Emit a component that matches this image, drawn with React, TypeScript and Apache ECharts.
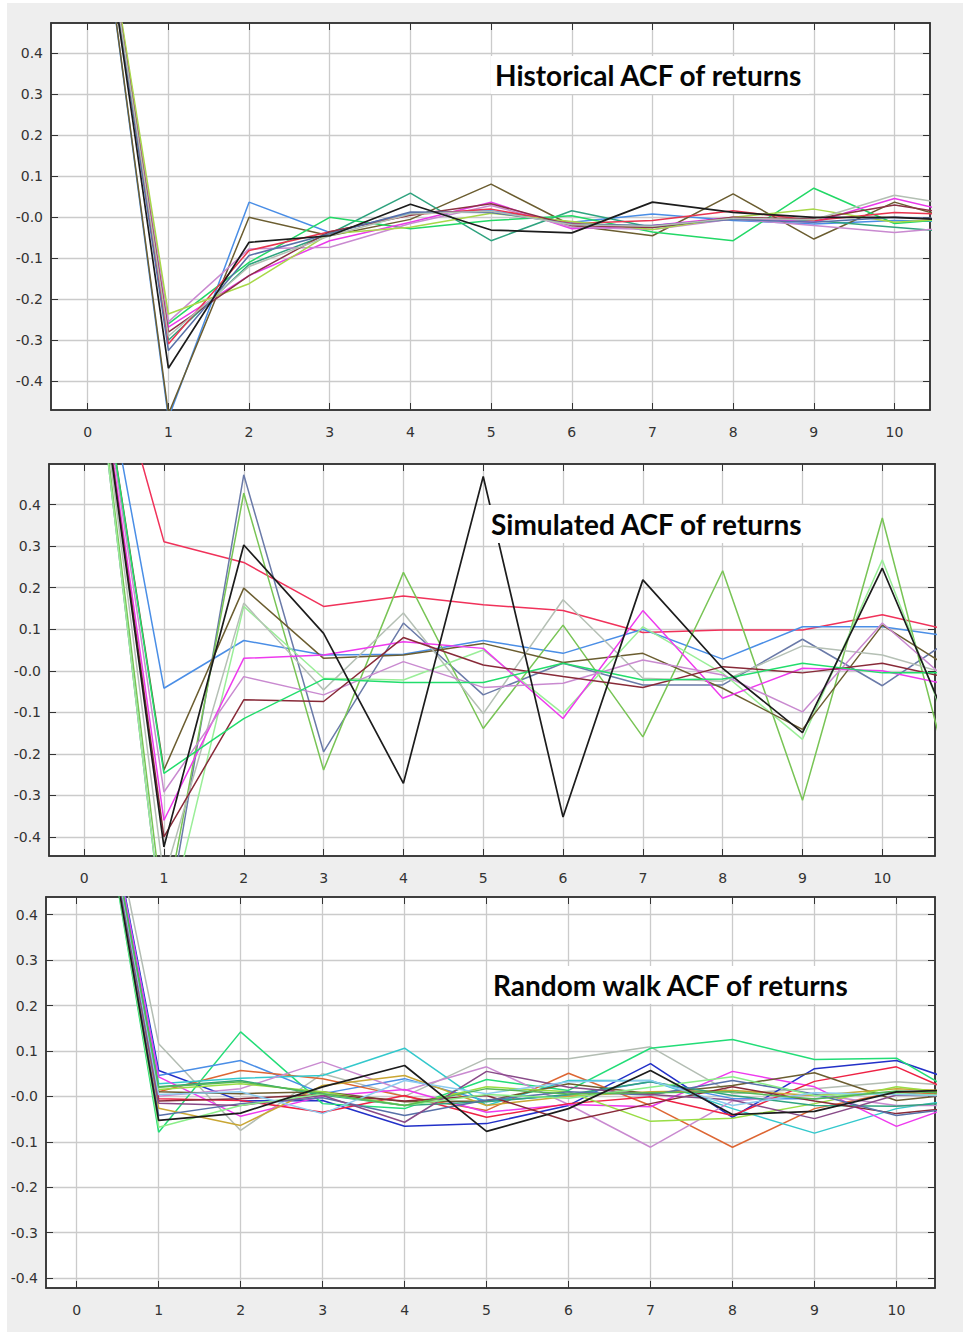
import React, { useEffect, useRef } from 'react';
import * as echarts from 'echarts';

// ---------- shared axis values ----------
const lags = [0, 1, 2, 3, 4, 5, 6, 7, 8, 9, 10, 11];
const xTicks = [0, 1, 2, 3, 4, 5, 6, 7, 8, 9, 10];
const yTicks = [-0.4, -0.3, -0.2, -0.1, 0, 0.1, 0.2, 0.3, 0.4];
const yTickLabels = ['-0.4', '-0.3', '-0.2', '-0.1', '-0.0', '0.1', '0.2', '0.3', '0.4'];
const titles = ['Historical ACF of returns', 'Simulated ACF of returns', 'Random walk ACF of returns'];

// ---------- panel 1: historical ----------
const histBlue = [1, -0.49, 0.037, -0.037, 0.01, 0.016, -0.012, 0.008, -0.008, -0.016, -0.008, -0.012];
const histOlive = [1, -0.48, 0.0, -0.045, -0.005, 0.081, -0.02, -0.045, 0.057, -0.053, 0.037, -0.02];
const histBlack = [1, -0.368, -0.061, -0.045, 0.032, -0.031, -0.038, 0.037, 0.012, 0.0, 0.0, -0.01];
const histTeal = [1, -0.3, -0.115, -0.04, 0.059, -0.057, 0.016, -0.025, -0.004, -0.008, -0.024, -0.04];
const histGreen = [1, -0.26, -0.11, 0.0, -0.028, -0.008, 0.004, -0.036, -0.057, 0.071, -0.015, 0.0];
const histMagenta = [1, -0.268, -0.142, -0.057, -0.012, 0.037, -0.028, -0.02, 0.0, -0.012, 0.046, 0.0];
const histPink = [1, -0.255, -0.077, -0.073, -0.015, 0.029, -0.024, -0.03, -0.004, -0.02, -0.037, -0.02];
const histRed = [1, -0.309, -0.081, -0.035, 0.006, 0.02, -0.015, -0.008, 0.016, -0.008, 0.012, 0.005];
const histLime = [1, -0.236, -0.162, -0.04, -0.024, 0.01, -0.01, -0.03, 0.0, 0.02, -0.012, 0.0];
const histMaroon = [1, -0.28, -0.142, -0.035, 0.005, 0.033, -0.02, -0.025, 0.0, -0.004, 0.03, 0.0];
const histSlate = [1, -0.325, -0.093, -0.04, 0.013, 0.012, -0.016, -0.02, -0.005, -0.012, 0.0, -0.005];
const histGray = [1, -0.29, -0.12, -0.045, 0.008, 0.015, -0.018, -0.022, -0.002, -0.006, 0.054, 0.022];

// ---------- panel 2: simulated ----------
const simRed = [1, 0.311, 0.261, 0.155, 0.18, 0.159, 0.145, 0.092, 0.098, 0.098, 0.135, 0.091];
const simBlue = [1, -0.042, 0.073, 0.038, 0.04, 0.073, 0.042, 0.1, 0.028, 0.106, 0.106, 0.079];
const simBlack = [1, -0.424, 0.303, 0.09, -0.271, 0.468, -0.352, 0.219, 0.006, -0.149, 0.247, -0.208];
const simSlate = [1, -0.65, 0.472, -0.195, 0.115, -0.058, 0.018, -0.034, -0.034, 0.076, -0.036, 0.094];
const simGreen = [1, -0.6, 0.428, -0.239, 0.237, -0.139, 0.11, -0.159, 0.241, -0.312, 0.368, -0.37];
const simLightGreen = [1, -0.65, 0.155, -0.018, -0.022, 0.05, -0.103, 0.106, -0.006, -0.165, 0.267, -0.225];
const simOlive = [1, -0.239, 0.199, 0.03, 0.038, 0.066, 0.02, 0.042, -0.042, -0.141, 0.11, -0.011];
const simGray = [1, -0.5, 0.163, -0.046, 0.139, -0.103, 0.171, -0.018, -0.025, 0.06, 0.038, -0.017];
const simMagenta = [1, -0.36, 0.03, 0.038, 0.07, 0.054, -0.115, 0.145, -0.066, 0.006, 0.0, -0.04];
const simPink = [1, -0.292, -0.014, -0.058, 0.022, -0.04, -0.03, 0.026, -0.01, -0.099, 0.115, -0.053];
const simMaroon = [1, -0.4, -0.07, -0.074, 0.08, 0.014, -0.014, -0.04, 0.01, -0.005, 0.018, -0.024];
const simBrightGreen = [1, -0.247, -0.115, -0.02, -0.028, -0.028, 0.018, -0.022, -0.02, 0.018, -0.005, -0.005];

// ---------- panel 3: random walk ----------
const rwGray = [1, 0.116, -0.075, 0.05, 0.0, 0.083, 0.083, 0.109, 0.006, 0.017, 0.032, 0.02];
const rwNavy = [1, 0.057, -0.01, -0.009, -0.066, -0.06, -0.02, 0.072, -0.046, 0.061, 0.079, 0.017];
const rwGreen = [1, -0.079, 0.142, -0.016, -0.027, 0.037, 0.013, 0.106, 0.125, 0.081, 0.084, -0.02];
const rwBlue = [1, 0.046, 0.079, 0.006, 0.039, -0.01, 0.002, 0.032, -0.005, -0.005, 0.01, -0.01];
const rwOrange = [1, 0.01, 0.057, 0.039, 0.0, -0.031, 0.051, -0.02, -0.112, -0.027, 0.01, 0.0];
const rwCyan = [1, 0.028, 0.04, 0.046, 0.106, -0.02, 0.035, 0.035, -0.027, -0.081, -0.027, 0.0];
const rwBlack = [1, -0.053, -0.037, 0.021, 0.068, -0.077, -0.027, 0.057, -0.04, -0.033, 0.01, 0.015];
const rwViolet = [1, 0.0, 0.017, 0.076, 0.013, 0.065, -0.018, -0.112, -0.01, 0.004, -0.02, -0.02];
const rwMagenta = [1, 0.043, -0.044, 0.0, 0.015, -0.035, -0.018, -0.023, 0.055, 0.021, -0.066, -0.002];
const rwRed = [1, -0.005, -0.009, -0.035, 0.002, -0.046, -0.016, -0.001, -0.042, 0.033, 0.065, -0.014];
const rwOlive = [1, 0.01, 0.006, 0.01, -0.012, -0.01, 0.028, 0.006, 0.024, 0.052, -0.009, 0.01];
const rwMustard = [1, -0.026, -0.064, 0.024, 0.046, -0.02, 0.0, 0.01, 0.013, 0.002, 0.017, 0.01];
const rwLime = [1, 0.015, 0.028, 0.01, -0.02, 0.021, 0.01, -0.055, -0.048, -0.016, 0.021, 0.0];
const rwTeal = [1, 0.021, 0.035, 0.003, -0.02, -0.012, 0.004, 0.032, 0.002, -0.02, -0.022, -0.01];
const rwMaroon = [1, -0.01, -0.005, 0.004, -0.01, 0.002, -0.055, -0.016, 0.021, -0.01, -0.038, -0.02];
const rwSlate = [1, -0.042, -0.016, -0.003, -0.042, -0.008, 0.01, 0.003, 0.035, 0.005, -0.042, -0.02];
const rwPurple = [1, -0.015, -0.02, 0.002, -0.057, 0.055, 0.02, 0.004, -0.008, -0.049, 0.003, 0.0];
const rwLightGreen = [1, -0.068, -0.02, 0.005, -0.02, 0.004, -0.004, 0.02, 0.043, 0.002, 0.006, 0.0];
const rwSky = [1, 0.004, 0.01, -0.038, 0.035, 0.006, 0.032, 0.035, -0.02, 0.008, 0.004, 0.0];
const rwMidGreen = [1, 0.02, 0.032, 0.006, -0.02, 0.017, 0.005, 0.008, 0.01, -0.006, 0.012, 0.004];

const histData = [histBlue, histOlive, histTeal, histGreen, histMagenta, histPink, histRed, histLime, histMaroon, histSlate, histGray, histBlack];
const histColors = ['#4a8ee6', '#6b5d30', '#2fa37f', '#22d866', '#ea3aea', '#c98ad0', '#e8344f', '#a8d848', '#8a3344', '#5870a8', '#b3bfb3', '#1c1c1c'];

const simData = [simRed, simBlue, simSlate, simGreen, simLightGreen, simOlive, simGray, simMagenta, simPink, simMaroon, simBrightGreen, simBlack];
const simColors = ['#f0325a', '#4a8ee6', '#6a7aa8', '#78c455', '#9aee98', '#6b5d30', '#b5c0b5', '#ee3aee', '#c98ad0', '#882a38', '#22dd6c', '#1c1c1c'];

const rwData = [rwGray, rwNavy, rwGreen, rwBlue, rwOrange, rwCyan, rwViolet, rwMagenta, rwRed, rwOlive, rwMustard, rwLime, rwTeal, rwMaroon, rwSlate, rwPurple, rwLightGreen, rwSky, rwMidGreen, rwBlack];
const rwColors = ['#b3bdb3', '#2230c8', '#22dd77', '#4a8ee6', '#dd6633', '#33c8cc', '#c98ad0', '#ee3aee', '#ee2244', '#6b5d30', '#c9a633', '#99dd44', '#2fa37f', '#882a38', '#5870a8', '#884a88', '#8aee88', '#8ccbee', '#55b855', '#1c1c1c'];

const panels = [
  { left: 51, top: 23, width: 879, height: 387, xMin: -0.455, xMax: 10.44, yMin: -0.47, yMax: 0.474, titleX: 491, titleY: 75 },
  { left: 49, top: 464, width: 886, height: 392, xMin: -0.44, xMax: 10.66, yMin: -0.446, yMax: 0.498, titleX: 487, titleY: 524 },
  { left: 46, top: 897, width: 889, height: 391, xMin: -0.374, xMax: 10.47, yMin: -0.422, yMax: 0.439, titleX: 489, titleY: 985 },
];

const labelFont = { color: '#333', fontSize: 14, fontFamily: 'DejaVu Sans' };

function yLabel(v: number) {
  let best = 0;
  for (let i = 0; i < yTicks.length; i++) {
    if (Math.abs(yTicks[i] - v) < Math.abs(yTicks[best] - v)) best = i;
  }
  return yTickLabels[best];
}

function buildOption() {
  const grid: any[] = [];
  const xAxis: any[] = [];
  const yAxis: any[] = [];
  const series: any[] = [];
  const tickStyle = { color: '#333', width: 1 };
  const lineStyle = { color: '#333', width: 1.5 };

  panels.forEach((p, i) => {
    grid.push({
      left: p.left, top: p.top, width: p.width, height: p.height,
      show: true, backgroundColor: '#ffffff', borderColor: '#333', borderWidth: 1.5,
      containLabel: false, outerBoundsMode: 'none',
    });
    xAxis.push({
      type: 'value', gridIndex: i, position: 'bottom', min: p.xMin, max: p.xMax,
      axisLine: { show: true, onZero: false, lineStyle },
      axisTick: { show: true, inside: true, length: 7, customValues: xTicks, lineStyle: tickStyle },
      axisLabel: { show: true, customValues: xTicks, margin: 15, ...labelFont, formatter: (v: number) => String(Math.round(v)) },
      splitLine: { show: true, lineStyle: { color: '#cbcbcb', width: 1.3 } },
    });
    xAxis.push({
      type: 'value', gridIndex: i, position: 'top', min: p.xMin, max: p.xMax,
      axisLine: { show: true, onZero: false, lineStyle },
      axisTick: { show: true, inside: true, length: 7, customValues: xTicks, lineStyle: tickStyle },
      axisLabel: { show: false },
      splitLine: { show: false },
    });
    yAxis.push({
      type: 'value', gridIndex: i, position: 'left', min: p.yMin, max: p.yMax,
      axisLine: { show: true, onZero: false, lineStyle },
      axisTick: { show: true, inside: true, length: 7, customValues: yTicks, lineStyle: tickStyle },
      axisLabel: { show: true, customValues: yTicks, margin: 8, padding: [9, 0, 0, 0], ...labelFont, formatter: (v: number) => yLabel(v) },
      splitLine: { show: true, lineStyle: { color: '#cbcbcb', width: 1.3 } },
    });
    yAxis.push({
      type: 'value', gridIndex: i, position: 'right', min: p.yMin, max: p.yMax,
      axisLine: { show: true, onZero: false, lineStyle },
      axisTick: { show: true, inside: true, length: 7, customValues: yTicks, lineStyle: tickStyle },
      axisLabel: { show: false },
      splitLine: { show: false },
    });
  });

  const groups = [
    { data: histData, colors: histColors },
    { data: simData, colors: simColors },
    { data: rwData, colors: rwColors },
  ];
  groups.forEach((g, i) => {
    g.data.forEach((vals, j) => {
      series.push({
        type: 'line',
        xAxisIndex: 2 * i,
        yAxisIndex: 2 * i,
        data: lags.map((l, k) => [l, vals[k]]),
        symbol: 'none',
        clip: true,
        lineStyle: { color: g.colors[j], width: g.colors[j] === '#1c1c1c' ? 1.7 : 1.5 },
        itemStyle: { color: g.colors[j] },
        z: 2,
      });
    });
  });

  const graphic: any[] = [
    { type: 'rect', shape: { x: 0, y: 0, width: 7, height: 1332 }, style: { fill: '#ffffff' }, silent: true, z: -10 },
    { type: 'rect', shape: { x: 0, y: 0, width: 963, height: 3 }, style: { fill: '#ffffff' }, silent: true, z: -10 },
  ];
  titles.forEach((t, i) => {
    graphic.push({
      type: 'text',
      x: panels[i].titleX,
      y: panels[i].titleY,
      z: 100,
      style: {
        text: t,
        font: 'bold 28px Lato',
        fill: '#050505',
        align: 'left',
        verticalAlign: 'middle',
        textAlign: 'left',
        textVerticalAlign: 'middle',
        backgroundColor: '#ffffff',
        padding: [5, 6, 5, 4],
      },
    });
  });

  return {
    animation: false,
    backgroundColor: '#eeeeee',
    grid,
    xAxis,
    yAxis,
    series,
    graphic,
  };
}

export default function App() {
  const ref = useRef<HTMLDivElement>(null);
  useEffect(() => {
    if (!ref.current) return;
    const chart = echarts.init(ref.current, null, { renderer: 'svg' });
    chart.setOption(buildOption() as any);
    return () => chart.dispose();
  }, []);
  return (
    <div
      ref={ref}
      style={{ position: 'absolute', left: 0, top: 0, width: 963, height: 1332 }}
    />
  );
}
